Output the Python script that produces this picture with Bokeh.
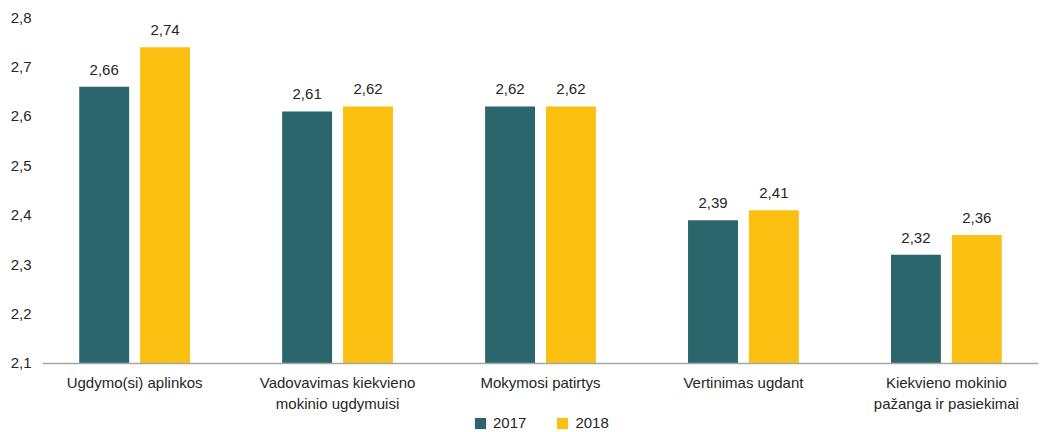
from bokeh.plotting import figure
from bokeh.models import (ColumnDataSource, FactorRange, FixedTicker, CustomJSTickFormatter,
                          Legend, LegendItem, Range1d)
from bokeh.transform import dodge
from bokeh.core.properties import value
from bokeh.embed import file_html
from bokeh.resources import INLINE

categories = ["Ugdymo(si) aplinkos", "Vadovavimas kiekvieno\nmokinio ugdymuisi",
              "Mokymosi patirtys", "Vertinimas ugdant",
              "Kiekvieno mokinio\npažanga ir pasiekimai"]
v2017 = [2.66, 2.61, 2.62, 2.39, 2.32]
v2018 = [2.74, 2.62, 2.62, 2.41, 2.36]
y_ticks = [2.1, 2.2, 2.3, 2.4, 2.5, 2.6, 2.7, 2.8]
BASE = 2.1

TEAL = "#2a666b"
YELLOW = "#fbc012"
FONT = "Liberation Sans"
TXT = "#262626"

src = ColumnDataSource(dict(
    cat=categories, v2017=v2017, v2018=v2018,
    l2017=[f"{v:.2f}".replace(".", ",") for v in v2017],
    l2018=[f"{v:.2f}".replace(".", ",") for v in v2018],
))

# frame extends below the 2.1 baseline to leave room for the category labels and legend
xr = FactorRange(*categories, range_padding=-0.046, range_padding_units="absolute")
p = figure(x_range=xr, y_range=Range1d(1.9604, 2.8), frame_width=996, frame_height=415,
           output_backend="svg", toolbar_location=None,
           min_border_left=42, min_border_right=3, min_border_top=17, min_border_bottom=0)

r1 = p.vbar(x=dodge("cat", -0.15, range=p.x_range), top="v2017", bottom=BASE, width=0.246,
            source=src, fill_color=TEAL, line_color=None)
r2 = p.vbar(x=dodge("cat", 0.15, range=p.x_range), top="v2018", bottom=BASE, width=0.246,
            source=src, fill_color=YELLOW, line_color=None)

for off, col, lab in [(-0.15, "v2017", "l2017"), (0.15, "v2018", "l2018")]:
    p.text(x=dodge("cat", off, range=p.x_range), y=col, text=lab, source=src,
           text_align="center", text_baseline="bottom", y_offset=-12,
           text_font=value(FONT), text_font_size="15px", text_color=TXT)

p.xgrid.grid_line_color = None
p.ygrid.grid_line_color = None
p.outline_line_color = None

p.yaxis.ticker = FixedTicker(ticks=y_ticks)
p.yaxis.formatter = CustomJSTickFormatter(code="return tick.toFixed(1).replace('.', ',');")
p.yaxis.axis_line_color = None
p.yaxis.major_tick_line_color = None
p.yaxis.minor_tick_line_color = None
p.yaxis.major_tick_out = 0
p.yaxis.major_tick_in = 0
p.yaxis.minor_tick_out = 0
p.yaxis.major_label_standoff = 11
p.yaxis.major_label_text_font = FONT
p.yaxis.major_label_text_font_size = "15px"
p.yaxis.major_label_text_color = TXT

p.xaxis.fixed_location = BASE
p.xaxis.axis_line_color = "#a6a6a6"
p.xaxis.axis_line_width = 1.5
p.xaxis.major_tick_line_color = None
p.xaxis.minor_tick_line_color = None
p.xaxis.major_tick_out = 0
p.xaxis.major_tick_in = 0
p.xaxis.minor_tick_out = 0
p.xaxis.major_label_standoff = 11
p.xaxis.major_label_text_font = FONT
p.xaxis.major_label_text_font_size = "15px"
p.xaxis.major_label_text_color = TXT
p.xaxis.major_label_text_line_height = 1.22

legend = Legend(items=[LegendItem(label="2017", renderers=[r1]),
                       LegendItem(label="2018", renderers=[r2])],
                orientation="horizontal", location=(431, 1),
                glyph_width=14, glyph_height=14, label_text_font=FONT,
                label_text_font_size="15px", label_text_color=TXT,
                spacing=29, padding=0, margin=0, border_line_color=None,
                background_fill_alpha=0, label_standoff=6, label_height=14)
p.add_layout(legend)

open("out.html", "w").write(file_html(p, INLINE))
